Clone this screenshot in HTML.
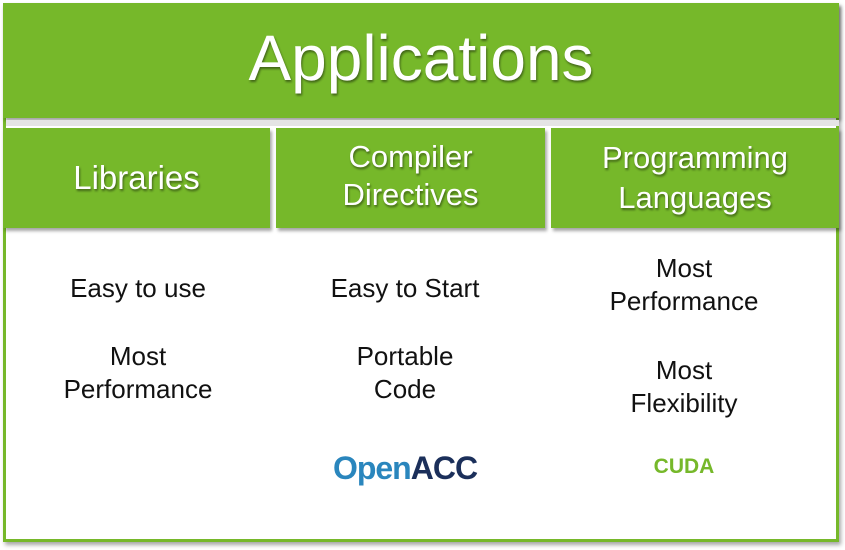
<!DOCTYPE html>
<html><head><style>
body{margin:0;width:845px;height:550px;background:#fff;position:relative;overflow:hidden;font-family:"Liberation Sans",sans-serif}
.a{position:absolute}
.frame{left:3px;top:3px;width:830px;height:533px;border:3px solid #76b82a;box-shadow:2px 3px 4px rgba(0,0,0,.35)}
.g{background:#76b82a;color:#fff;text-shadow:1px 2px 2px rgba(0,0,0,.45);display:flex;align-items:center;justify-content:center;text-align:center;box-shadow:2px 3px 3px rgba(0,0,0,.35)}
.t{color:#111;font-size:26px;text-align:center;line-height:33px}
</style></head><body>
<div class="a frame"></div>
<div class="a g" style="left:3px;top:3px;width:836px;height:115px;font-size:64px;padding-bottom:6px;box-sizing:border-box">Applications</div>
<div class="a" style="left:6px;top:120px;width:833px;height:6px;background:#e4e4e4"></div>
<div class="a g" style="left:3px;top:128px;width:267px;height:100px;font-size:33px;line-height:38px">Libraries</div>
<div class="a g" style="left:276px;top:128px;width:269px;height:100px;font-size:31px;line-height:38px;padding-bottom:4px;box-sizing:border-box">Compiler<br>Directives</div>
<div class="a g" style="left:551px;top:128px;width:288px;height:100px;font-size:31px;line-height:40px">Programming<br>Languages</div>
<div class="a t" style="left:3px;top:272px;width:270px">Easy to use</div>
<div class="a t" style="left:3px;top:340px;width:270px">Most<br>Performance</div>
<div class="a t" style="left:270px;top:272px;width:270px">Easy to Start</div>
<div class="a t" style="left:270px;top:340px;width:270px">Portable<br>Code</div>
<div class="a t" style="left:549px;top:252px;width:270px">Most<br>Performance</div>
<div class="a t" style="left:549px;top:354px;width:270px">Most<br>Flexibility</div>
<div class="a" style="left:270px;top:450px;width:270px;text-align:center;font-size:32px;font-weight:bold;letter-spacing:-1px"><span style="color:#2a86bd">Open</span><span style="color:#1b2f5a">ACC</span></div>
<div class="a" style="left:549px;top:455px;width:270px;text-align:center;font-size:21px;font-weight:bold;color:#76b82a">CUDA</div>
</body></html>
